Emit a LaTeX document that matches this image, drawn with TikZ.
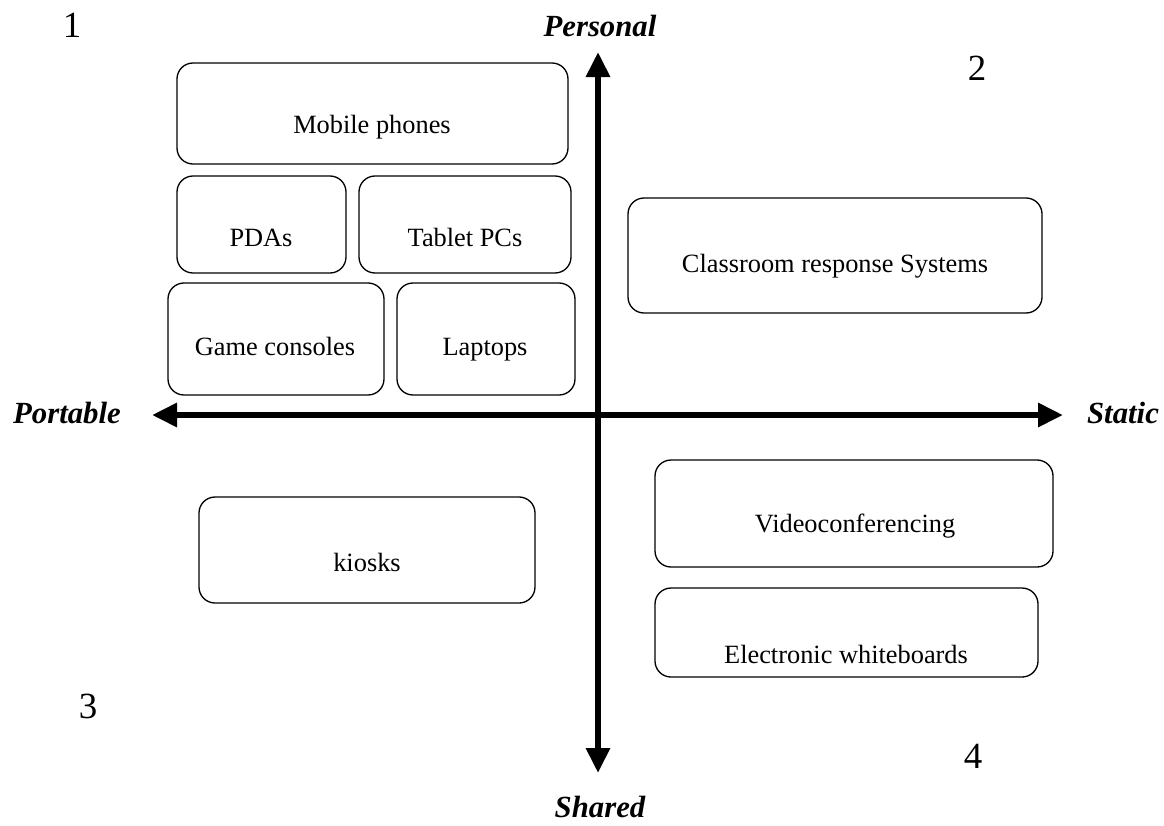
\documentclass[tikz,border=0pt]{standalone}
\usepackage{fontspec}
\setmainfont{Liberation Serif}
\usetikzlibrary{arrows.meta}

\begin{document}
\begin{tikzpicture}[x=0.2mm,y=-0.2mm]

\def\u{0.2mm}
\tikzstyle{box} = [
	draw, rectangle, rounded corners=3.2mm, line width=0.75pt,
	inner sep=0pt ];
\tikzstyle{txt} = [anchor=base, inner sep=0pt,
	font=\fontsize{15}{18}\selectfont];
\tikzstyle{axlabel} = [anchor=base, inner sep=0pt,
	font=\fontsize{17.5}{21}\selectfont\bfseries\itshape];
\tikzstyle{quad} = [anchor=base, inner sep=0pt,
	font=\fontsize{21}{25}\selectfont];
\tikzstyle{axis} = [line width=3.4pt,
	{Triangle[length=5mm,width=4.6mm]}-{Triangle[length=5mm,width=4.6mm]}];
\useasboundingbox (0,0) rectangle (1164,825);

% boxes
\node[box, minimum width=391*\u, minimum height=101*\u] (mobile) at (372.5,113.5) {};
\node[box, minimum width=169*\u, minimum height=97*\u] (pda) at (261.5,224.5) {};
\node[box, minimum width=212*\u, minimum height=97*\u] (tablet) at (465,224.5) {};
\node[box, minimum width=216*\u, minimum height=112*\u] (game) at (276,339) {};
\node[box, minimum width=178*\u, minimum height=112*\u] (laptop) at (486,339) {};
\node[box, minimum width=414*\u, minimum height=115*\u] (crs) at (835,255.5) {};
\node[box, minimum width=398*\u, minimum height=107*\u] (video) at (854,513.5) {};
\node[box, minimum width=383*\u, minimum height=89*\u] (ewb) at (846.5,632.5) {};
\node[box, minimum width=336*\u, minimum height=106*\u] (kiosk) at (367,550) {};

% texts
\node[txt] (tmobile) at (372,133.5) {Mobile phones};
\node[txt] (tpda) at (261,246) {PDAs};
\node[txt] (ttablet) at (465,246) {Tablet PCs};
\node[txt] (tgame) at (275,355) {Game consoles};
\node[txt] (tlaptop) at (485,355) {Laptops};
\node[txt] (tcrs) at (835,272) {Classroom response Systems};
\node[txt] (tvideo) at (855,532) {Videoconferencing};
\node[txt] (tewb) at (846,663) {Electronic whiteboards};
\node[txt] (tkiosk) at (367,571) {kiosks};

% axes
\coordinate (west) at (152,415);
\coordinate (east) at (1063,415);
\coordinate (north) at (598,52);
\coordinate (south) at (598,773);
\draw[axis] (west) -- (east);
\draw[axis] (north) -- (south);

\node[axlabel] (personal) at (600,36) {Personal};
\node[axlabel] (shared) at (600,817) {Shared};
\node[axlabel] (portable) at (67,423) {Portable};
\node[axlabel] (static) at (1123,423) {Static};

% quadrants
\node[quad] (q1) at (72,37) {1};
\node[quad] (q2) at (977,80) {2};
\node[quad] (q3) at (88,718) {3};
\node[quad] (q4) at (973,768) {4};

\end{tikzpicture}
\end{document}
